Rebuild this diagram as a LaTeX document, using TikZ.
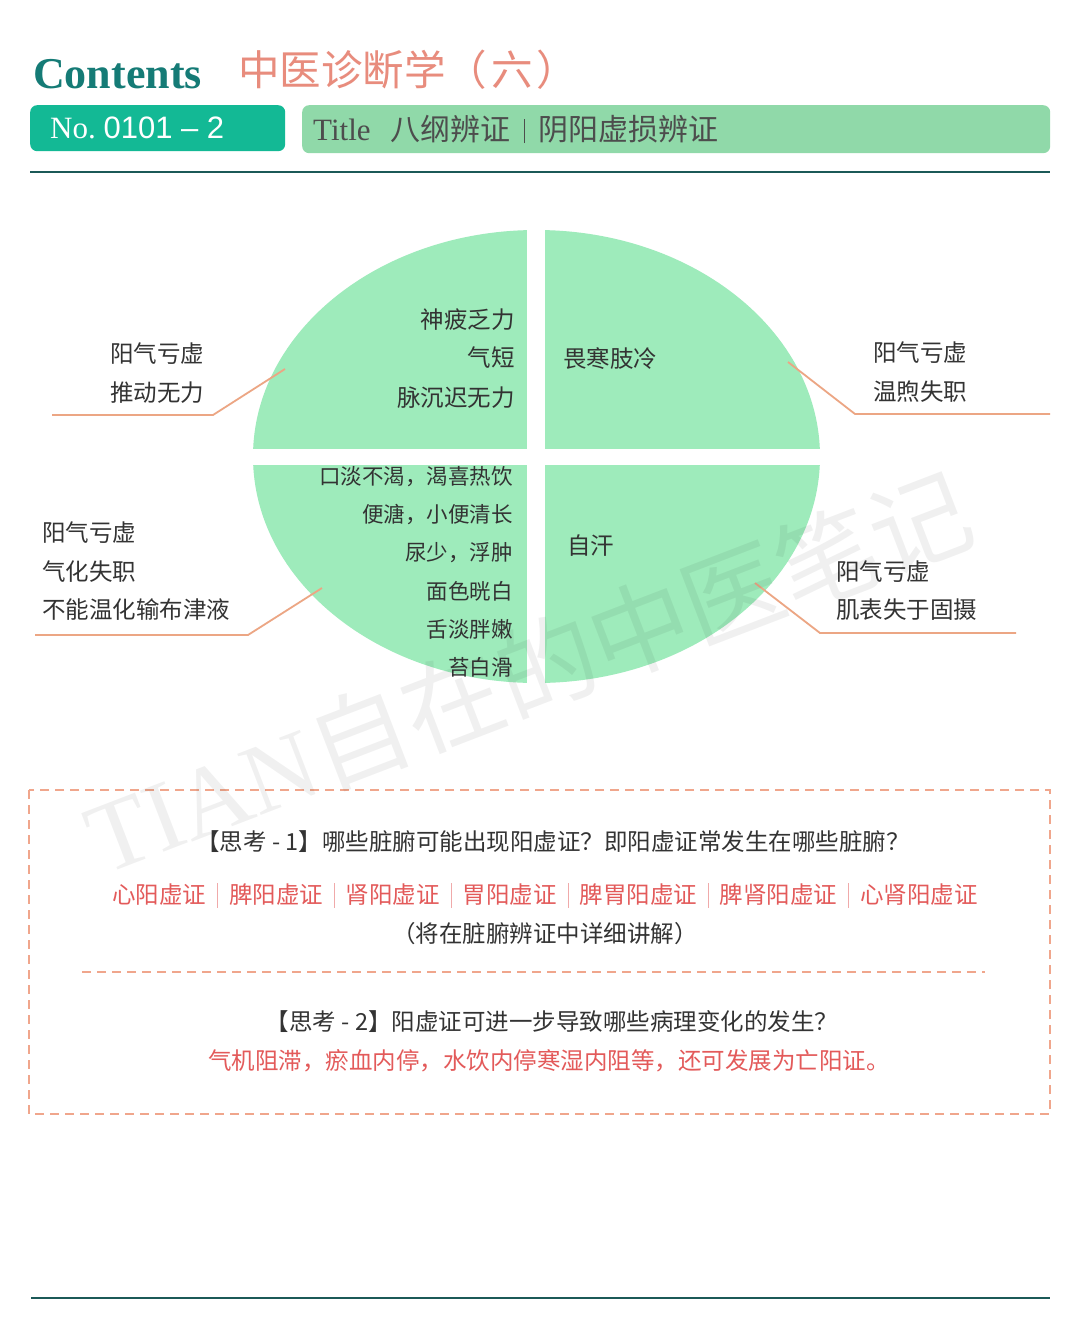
\documentclass[tikz,border=0pt]{standalone}
\usepackage{fontspec}
\setmainfont{Liberation Serif}
\newfontfamily\cjk{Noto Sans CJK SC}
\newfontfamily\arial{Liberation Sans}
\usetikzlibrary{positioning}

\definecolor{headteal}{RGB}{21,123,118}
\definecolor{headsalmon}{RGB}{232,140,125}
\definecolor{numbox}{RGB}{19,185,149}
\definecolor{titlebox}{RGB}{144,217,169}
\definecolor{titleink}{RGB}{77,77,77}
\definecolor{rulecol}{RGB}{27,89,87}
\definecolor{leaf}{RGB}{158,235,187}
\definecolor{inkgray}{RGB}{51,51,51}
\definecolor{leadorange}{RGB}{236,166,132}
\definecolor{dashsalmon}{RGB}{240,166,140}
\definecolor{redink}{RGB}{227,90,90}
\definecolor{sepred}{RGB}{240,170,170}

\newcommand{\vbar}{\hspace{11pt}\textcolor{sepred}{\rule[-4pt]{0.8pt}{25pt}}\hspace{11pt}}

\begin{document}
\begin{tikzpicture}[x=1pt,y=-1pt,
            body/.style={
                font=\cjk\fontsize{23.5}{23.5}\selectfont,
                text=inkgray,
                inner sep=0pt
            },
            small/.style={
                body,
                font=\cjk\fontsize{21.5}{21.5}\selectfont
            },
            banner/.style={
                rounded corners=7pt,
                anchor=north west,
                inner sep=0pt
            },
            lead/.style={
                draw=leadorange,
                line width=1.8pt
            },
            dashbox/.style={
                draw=dashsalmon,
                line width=1.6pt,
                dash pattern=on 9pt off 6pt
            }
        ]
            \useasboundingbox[fill=white] (0,0) rectangle (1080,1341);

            % header
            \node[anchor=base west, inner sep=0pt, text=headteal,
                  font=\bfseries\fontsize{44}{44}\selectfont] (contents) at (33,88) {Contents};
            \node[anchor=west, inner sep=0pt, text=headsalmon,
                  font=\cjk\fontsize{41.5}{41.5}\selectfont] (course) at (238,70) {中医诊断学（\hspace{4pt}六\hspace{4pt}）};
            \node[banner, fill=numbox, minimum width=255, minimum height=46] (nobox) at (30,105) {};
            \node[anchor=west, inner sep=0pt, text=white, font=\fontsize{31}{31}\selectfont]
                (noline) at (50,128) {No.\ {\arial 0101 – 2}};
            \node[banner, fill=titlebox, minimum width=748, minimum height=48] (titlebar) at (302,105) {};
            \node[anchor=west, inner sep=0pt, text=titleink, font=\fontsize{31}{31}\selectfont]
                (titleline) at (313,129) {Title\hspace{20pt}{\cjk\fontsize{30}{30}\selectfont 八纲辨证\hspace{13pt}\rule[-3pt]{1.6pt}{24pt}\hspace{13pt}阴阳虚损辨证}};
            \draw[rulecol, line width=2.6pt] (30,172) -- (1050,172);

            % quartered ellipse
            \fill[leaf] (536.5,456.5) ellipse [x radius=283.5, y radius=226.5];
            \draw[white, line width=18pt] (536,222) -- (536,692);
            \draw[white, line width=16pt] (245,457) -- (830,457);

            \foreach \txt/\y in {神疲乏力/320, 气短/358, 脉沉迟无力/398}
                \node[body, anchor=east] (ul-\y) at (515,\y) {\txt};
            \node[body, anchor=west] (ur-sign) at (563,359) {畏寒肢冷};
            \foreach \txt/\y in {
                口淡不渴，渴喜热饮/477,
                便溏，小便清长/515,
                尿少，浮肿/553,
                面色晄白/591,
                舌淡胖嫩/629,
                苔白滑/667
            }
                \node[small, anchor=east] (ll-\y) at (513,\y) {\txt};
            \node[body, anchor=west] (lr-sign) at (567,546) {自汗};

            % side labels
            \foreach \txt/\x/\y in {
                阳气亏虚/110/354, 推动无力/110/393,
                阳气亏虚/873/353, 温煦失职/873/392,
                阳气亏虚/42/533, 气化失职/42/572, 不能温化输布津液/42/610,
                阳气亏虚/836/572, 肌表失于固摄/836/610
            }
                \node[body, anchor=west] (lab-\x-\y) at (\x,\y) {\txt};

            % leader lines
            \foreach \nm/\ax/\ay/\bx/\by/\cx in {
                tl/285/369/213/415/52,
                tr/788/362/855/414/1050,
                bl/322/588/248/635/35,
                br/755/583/820/633/1016
            } {
                \coordinate (\nm-in) at (\ax,\ay);
                \coordinate (\nm-knee) at (\bx,\by);
                \coordinate (\nm-end) at (\cx,\by);
                \draw[lead] (\nm-in) -- (\nm-knee) -- (\nm-end);
            }

            % questions
            \draw[dashbox] (29,790) rectangle (1050,1114);
            \draw[dashbox] (82,972) -- (985,972);
            \node[body] (q1) at (553,842) {【思考 - 1】哪些脏腑可能出现阳虚证？即阳虚证常发生在哪些脏腑？};
            \node[body, text=redink] (a1) at (545,895)
                {心阳虚证\vbar 脾阳虚证\vbar 肾阳虚证\vbar 胃阳虚证\vbar 脾胃阳虚证\vbar 脾肾阳虚证\vbar 心肾阳虚证};
            \node[body] (a1note) at (545,934) {（将在脏腑辨证中详细讲解）};
            \node[body] (q2) at (552,1022) {【思考 - 2】阳虚证可进一步导致哪些病理变化的发生？};
            \node[body, text=redink] (a2) at (549,1061) {气机阻滞，瘀血内停，水饮内停寒湿内阻等，还可发展为亡阳证。};

            \draw[rulecol, line width=2.6pt] (31,1298) -- (1050,1298);

            % watermark
            \node[rotate=21, text=black, text opacity=0.06, inner sep=0pt,
                  font=\fontsize{100}{100}\selectfont] (mark) at (528,672) {TIAN{\cjk 自在的中医笔记}};
        \end{tikzpicture}
\end{document}
